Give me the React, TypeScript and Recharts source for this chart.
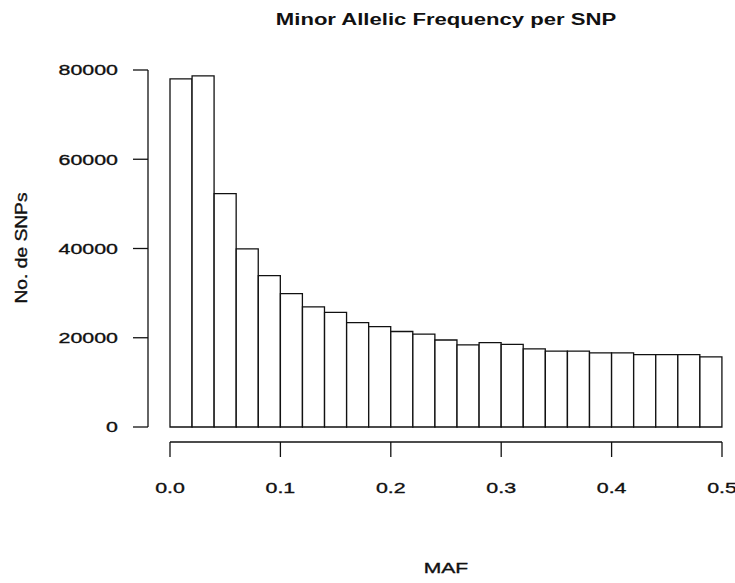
import { BarChart, Bar, XAxis, YAxis } from 'recharts'

// MAF histogram: 25 bins of width 0.02 (bin midpoints)
const binMids = [
  0.01, 0.03, 0.05, 0.07, 0.09, 0.11, 0.13, 0.15, 0.17, 0.19, 0.21, 0.23, 0.25,
  0.27, 0.29, 0.31, 0.33, 0.35, 0.37, 0.39, 0.41, 0.43, 0.45, 0.47, 0.49,
]
const snpCounts = [
  78000, 78700, 52300, 39900, 33900, 29900, 26900, 25700, 23400, 22500, 21400, 20800, 19500,
  18400, 18900, 18500, 17500, 17000, 17000, 16600, 16600, 16200, 16200, 16200, 15700,
]
const xTicks = [0, 0.1, 0.2, 0.3, 0.4, 0.5]
const yTicks = [0, 20000, 40000, 60000, 80000]

const data = binMids.map((mid, i) => ({ mid, count: snpCounts[i] }))

const FONT = '"Liberation Sans", Arial, Helvetica, sans-serif'
const INK = '#111'
const STRETCH = 1.38

function YTick(props: any) {
  const { x, y, payload } = props
  return (
    <text
      transform={`translate(${x},${y}) scale(${STRETCH},1)`}
      textAnchor="end"
      dominantBaseline="central"
      fontFamily={FONT}
      fontSize={15.5}
      fill={INK}
      stroke={INK}
      strokeWidth={0.35}
    >
      {String(payload.value)}
    </text>
  )
}

function XTick(props: any) {
  const { x, y, payload } = props
  return (
    <text
      transform={`translate(${x},${y + 31}) scale(${STRETCH},1)`}
      textAnchor="middle"
      dominantBaseline="central"
      fontFamily={FONT}
      fontSize={15.5}
      fill={INK}
      stroke={INK}
      strokeWidth={0.35}
    >
      {Number(payload.value).toFixed(1)}
    </text>
  )
}

const textBase: React.CSSProperties = {
  position: 'absolute',
  fontFamily: FONT,
  color: INK,
  whiteSpace: 'nowrap',
  lineHeight: 1,
}

export default function App() {
  return (
    <div style={{ position: 'absolute', left: 0, top: 0, width: 735, height: 583, background: '#fff' }}>
      <BarChart
        width={735}
        height={583}
        data={data}
        margin={{ top: 70, right: 13, left: 0, bottom: 0 }}
        barCategoryGap={0}
        barGap={0}
      >
        <XAxis
          xAxisId="inner"
          dataKey="mid"
          type="number"
          domain={[0, 0.5]}
          height={15}
          tick={false}
          tickLine={false}
          axisLine={false}
        />
        <XAxis
          xAxisId="outer"
          dataKey="mid"
          type="number"
          domain={[0, 0.5]}
          ticks={xTicks}
          interval={0}
          height={141}
          tickSize={15}
          tickMargin={0}
          tick={<XTick />}
          axisLine={{ stroke: INK, strokeWidth: 1.3 }}
          tickLine={{ stroke: INK, strokeWidth: 1.3 }}
        />
        <YAxis
          yAxisId="inner"
          type="number"
          domain={[0, 80000]}
          width={22}
          tick={false}
          tickLine={false}
          axisLine={false}
        />
        <YAxis
          yAxisId="outer"
          type="number"
          domain={[0, 80000]}
          ticks={yTicks}
          interval={0}
          width={148}
          tickSize={15}
          tickMargin={15}
          tick={<YTick />}
          axisLine={{ stroke: INK, strokeWidth: 1.3 }}
          tickLine={{ stroke: INK, strokeWidth: 1.3 }}
        />
        {/* invisible twin so the offset axes get a scale */}
        <Bar
          xAxisId="outer"
          yAxisId="outer"
          dataKey="count"
          fill="none"
          stroke="none"
          legendType="none"
          isAnimationActive={false}
        />
        <Bar
          xAxisId="inner"
          yAxisId="inner"
          dataKey="count"
          fill="#fff"
          stroke={INK}
          strokeWidth={1.3}
          isAnimationActive={false}
        />
      </BarChart>
      <div
        style={{
          ...textBase,
          left: 446,
          top: 20,
          fontSize: 16,
          fontWeight: 'bold',
          transform: 'translate(-50%,-50%) scaleX(1.38)',
        }}
      >
        Minor Allelic Frequency per SNP
      </div>
      <div
        style={{
          ...textBase,
          left: 446,
          top: 568,
          fontSize: 15.5,
          WebkitTextStroke: '0.35px #111',
          transform: 'translate(-50%,-50%) scaleX(1.36)',
        }}
      >
        MAF
      </div>
      <div
        style={{
          ...textBase,
          left: 22,
          top: 248,
          fontSize: 16,
          WebkitTextStroke: '0.35px #111',
          transform: 'translate(-50%,-50%) rotate(-90deg) scaleX(1.2)',
        }}
      >
        No. de SNPs
      </div>
    </div>
  )
}
